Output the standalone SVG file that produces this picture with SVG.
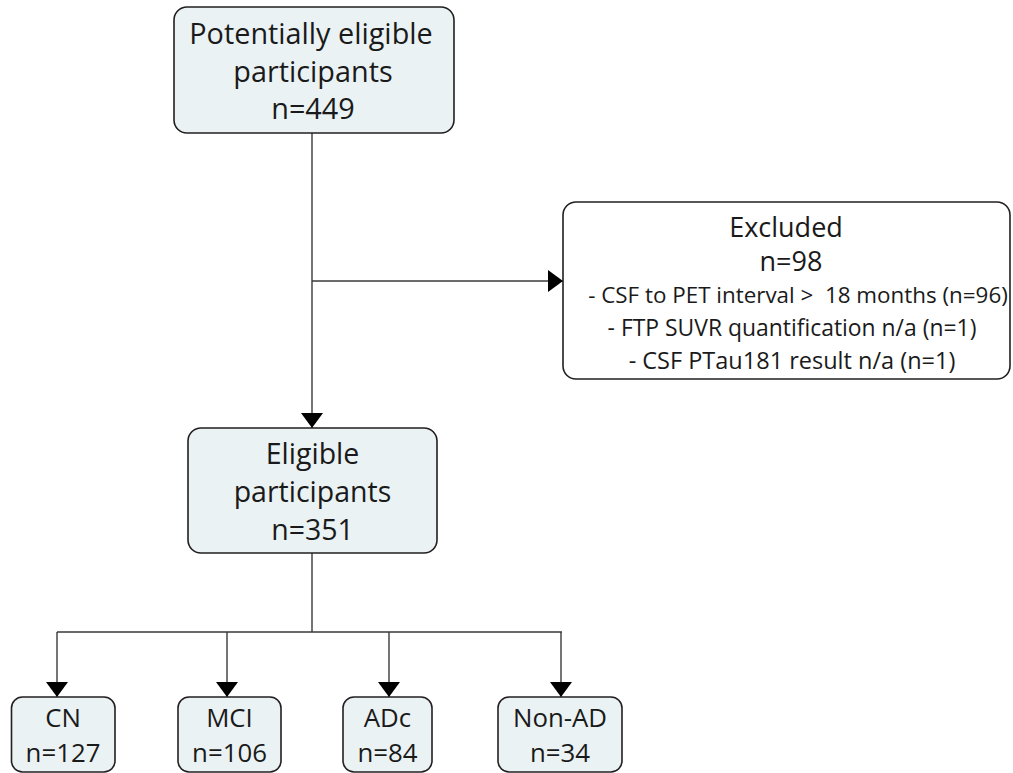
<svg xmlns="http://www.w3.org/2000/svg" width="1013" height="773" viewBox="0 0 1013 773">
<defs>
<style>
.box{fill:#EAF2F4;stroke:#231F20;stroke-width:1.6}
.wbox{fill:#FFFFFF;stroke:#231F20;stroke-width:1.6}
.t{font-family:"Open Sans","Liberation Sans",sans-serif;fill:#1A1A1A;text-anchor:middle}
.big{font-size:28.8px}
.el{font-size:28.5px}
.ttl{font-size:27px}
.mid{font-size:22.9px;white-space:pre}
.sm{font-size:25.8px}
.ln{fill:none;stroke:#3A3A3A;stroke-width:1.4}
</style>
<marker id="arr" markerUnits="userSpaceOnUse" markerWidth="16" markerHeight="22" refX="15" refY="11" orient="auto">
<path d="M0,0 L15,11 L0,22 Z" fill="#000"/>
</marker>
</defs>
<rect width="1013" height="773" fill="#FFFFFF"/>
<g id="connectors">
<line class="ln" x1="312" y1="133" x2="312" y2="428" marker-end="url(#arr)"/>
<line class="ln" x1="312" y1="281" x2="563" y2="281" marker-end="url(#arr)"/>
<path class="ln" d="M312,553 V632 M57,632 H562"/>
<line class="ln" x1="57" y1="632" x2="57" y2="697" marker-end="url(#arr)"/>
<line class="ln" x1="227" y1="632" x2="227" y2="697" marker-end="url(#arr)"/>
<line class="ln" x1="389" y1="632" x2="389" y2="697" marker-end="url(#arr)"/>
<line class="ln" x1="561" y1="632" x2="561" y2="697" marker-end="url(#arr)"/>
</g>
<g id="potentially">
<rect class="box" x="174" y="7" width="280" height="126" rx="13"/>
<text class="t big" x="311" y="44">Potentially eligible</text>
<text class="t big" x="313" y="82">participants</text>
<text class="t big" x="313" y="119">n=449</text>
</g>
<g id="excluded">
<rect class="wbox" x="563" y="202" width="447" height="177" rx="13"/>
<text class="t ttl" x="786" y="237">Excluded</text>
<text class="t ttl" x="791" y="271">n=98</text>
<text class="t mid" x="798" y="303" style="font-size:22.4px">- CSF to PET interval &gt;  18 months (n=96)</text>
<text class="t mid" x="792" y="336">- FTP SUVR quantification n/a (n=1)</text>
<text class="t mid" x="792" y="369" style="font-size:23.5px">- CSF PTau181 result n/a (n=1)</text>
</g>
<g id="eligible">
<rect class="box" x="188" y="428" width="249" height="125" rx="13"/>
<text class="t el" x="312.5" y="464">Eligible</text>
<text class="t el" x="312.5" y="502">participants</text>
<text class="t el" x="312.5" y="540">n=351</text>
</g>
<g id="cn">
<rect class="box" x="11.5" y="697" width="103.5" height="75" rx="11"/>
<text class="t sm" x="63" y="727">CN</text>
<text class="t sm" x="63" y="762">n=127</text>
</g>
<g id="mci">
<rect class="box" x="178" y="697" width="103" height="75" rx="11"/>
<text class="t sm" x="229.5" y="727">MCI</text>
<text class="t sm" x="229.5" y="762">n=106</text>
</g>
<g id="adc">
<rect class="box" x="343" y="697" width="89" height="75" rx="11"/>
<text class="t sm" x="387.5" y="727">ADc</text>
<text class="t sm" x="387.5" y="762">n=84</text>
</g>
<g id="nonad">
<rect class="box" x="498" y="697" width="124" height="75" rx="11"/>
<text class="t sm" x="560" y="727">Non-AD</text>
<text class="t sm" x="560" y="762">n=34</text>
</g>
</svg>
